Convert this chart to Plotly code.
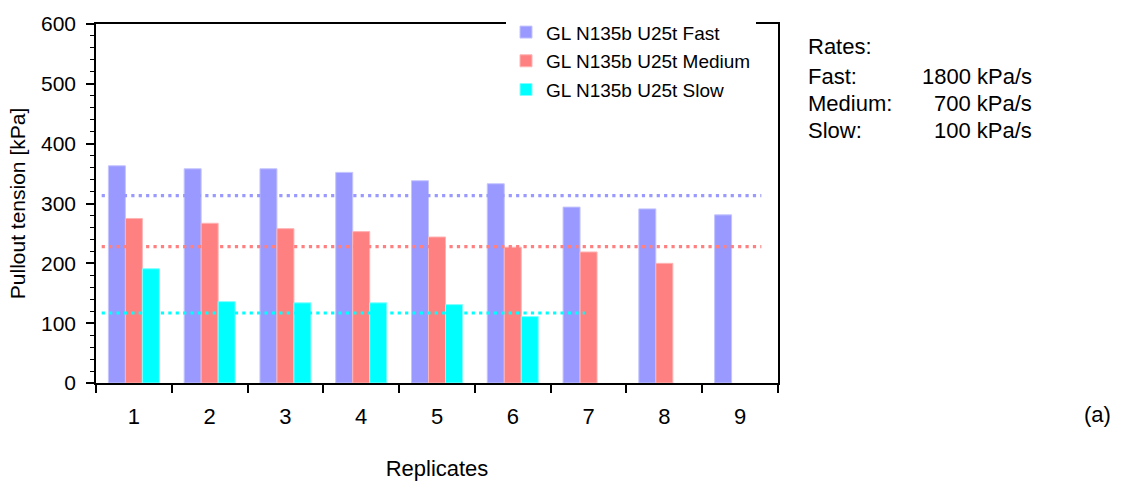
import plotly.graph_objects as go

# ---------------- data ----------------
replicates = [1, 2, 3, 4, 5, 6, 7, 8, 9]
tick_labels = ["1", "2", "3", "4", "5", "6", "7", "8", "9"]
fast = [363, 358, 358, 352, 338, 333, 294, 291, 281]
medium = [275, 267, 258, 253, 244, 227, 219, 200, None]
slow = [191, 136, 134, 134, 131, 111, None, None, None]
series_names = ["GL N135b U25t Fast", "GL N135b U25t Medium", "GL N135b U25t Slow"]

# average (reference) levels and their x extents (in replicate units)
avg_levels = [313, 228, 117]
avg_x_start = [0.575, 0.575, 0.575]
avg_x_end = [9.28, 9.28, 6.95]

rate_names = ["Fast:", "Medium:", "Slow:"]
rate_values = ["1800 kPa/s", "700 kPa/s", "100 kPa/s"]

# ---------------- style ----------------
W, H = 1124, 489
L, R, T, B = 96, 346, 18, 104
PW, PH = W - L - R, H - T - B
FONT = "Arial, Liberation Sans, sans-serif"
colors = ["#9999FF", "#FF8080", "#00FFFF"]
edge = ["#C4C4FF", "#FFB4B4", "#80FFFF"]


def px_x(px):
    return (px - L) / PW


def px_y(py):
    return 1 - (py - T) / PH


fig = go.Figure()
for i, (name, vals) in enumerate(zip(series_names, [fast, medium, slow])):
    fig.add_trace(go.Bar(
        x=replicates, y=vals, name=name,
        marker=dict(color=colors[i], line=dict(color=edge[i], width=1)),
        legendgroup=f"g{i}",
    ))

for i, lvl in enumerate(avg_levels):
    fig.add_trace(go.Scatter(
        x=[avg_x_start[i], avg_x_end[i]], y=[lvl, lvl], mode="lines",
        line=dict(color=colors[i], width=3.2, dash="3.2px,4.2px"),
        showlegend=False, hoverinfo="skip",
    ))

fig.update_layout(
    width=W, height=H,
    margin=dict(l=L, r=R, t=T, b=B, pad=0),
    paper_bgcolor="white", plot_bgcolor="white",
    font=dict(family=FONT, color="black", size=20),
    barmode="group", bargap=0.327, bargroupgap=0,
    showlegend=True,
    legend=dict(
        x=px_x(506), y=px_y(7), xanchor="left", yanchor="top",
        bgcolor="white", borderwidth=0,
        font=dict(family=FONT, size=19, color="black"),
        traceorder="grouped", tracegroupgap=1,
    ),
)

fig.update_xaxes(
    range=[0.5, 9.5], tickmode="array", tickvals=replicates, ticktext=tick_labels,
    ticks="", ticklen=0, tickfont=dict(size=22), ticklabelstandoff=13,
    minor=dict(tickmode="array", tickvals=[v - 0.5 for v in replicates] + [replicates[-1] + 0.5],
               ticks="outside", ticklen=8, tickwidth=1.5, tickcolor="black"),
    showline=True, linecolor="black", linewidth=1.5, mirror=True,
    showgrid=False, zeroline=False,
    title=dict(text="Replicates", font=dict(size=22), standoff=32),
)

fig.update_yaxes(
    range=[0, 600], tickmode="linear", tick0=0, dtick=100,
    ticks="outside", ticklen=8, tickwidth=1.5, tickcolor="black",
    tickfont=dict(size=21), ticklabelstandoff=6,
    minor=dict(dtick=20, ticks="outside", ticklen=4, tickwidth=1, tickcolor="black"),
    showline=True, linecolor="black", linewidth=1.5, mirror=True,
    showgrid=False, zeroline=False,
    title=dict(text="Pullout tension [kPa]", font=dict(size=21), standoff=10),
)

annotations = [dict(text="Rates:", x=px_x(806), y=px_y(41), xanchor="left", yanchor="middle")]
row_y = [71.5, 99.5, 127]
for name, val, ry in zip(rate_names, rate_values, row_y):
    annotations.append(dict(text=name, x=px_x(806), y=px_y(ry), xanchor="left", yanchor="middle"))
    annotations.append(dict(text=val, x=px_x(1034), y=px_y(ry), xanchor="right", yanchor="middle"))
annotations.append(dict(text="(a)", x=px_x(1097), y=px_y(417), xanchor="center", yanchor="middle",
                        font=dict(family=FONT, size=22, color="black")))
for a in annotations:
    a.update(xref="paper", yref="paper", showarrow=False)
    a.setdefault("font", dict(family=FONT, size=22, color="black"))
fig.update_layout(annotations=annotations)

fig.write_html("out.html")
